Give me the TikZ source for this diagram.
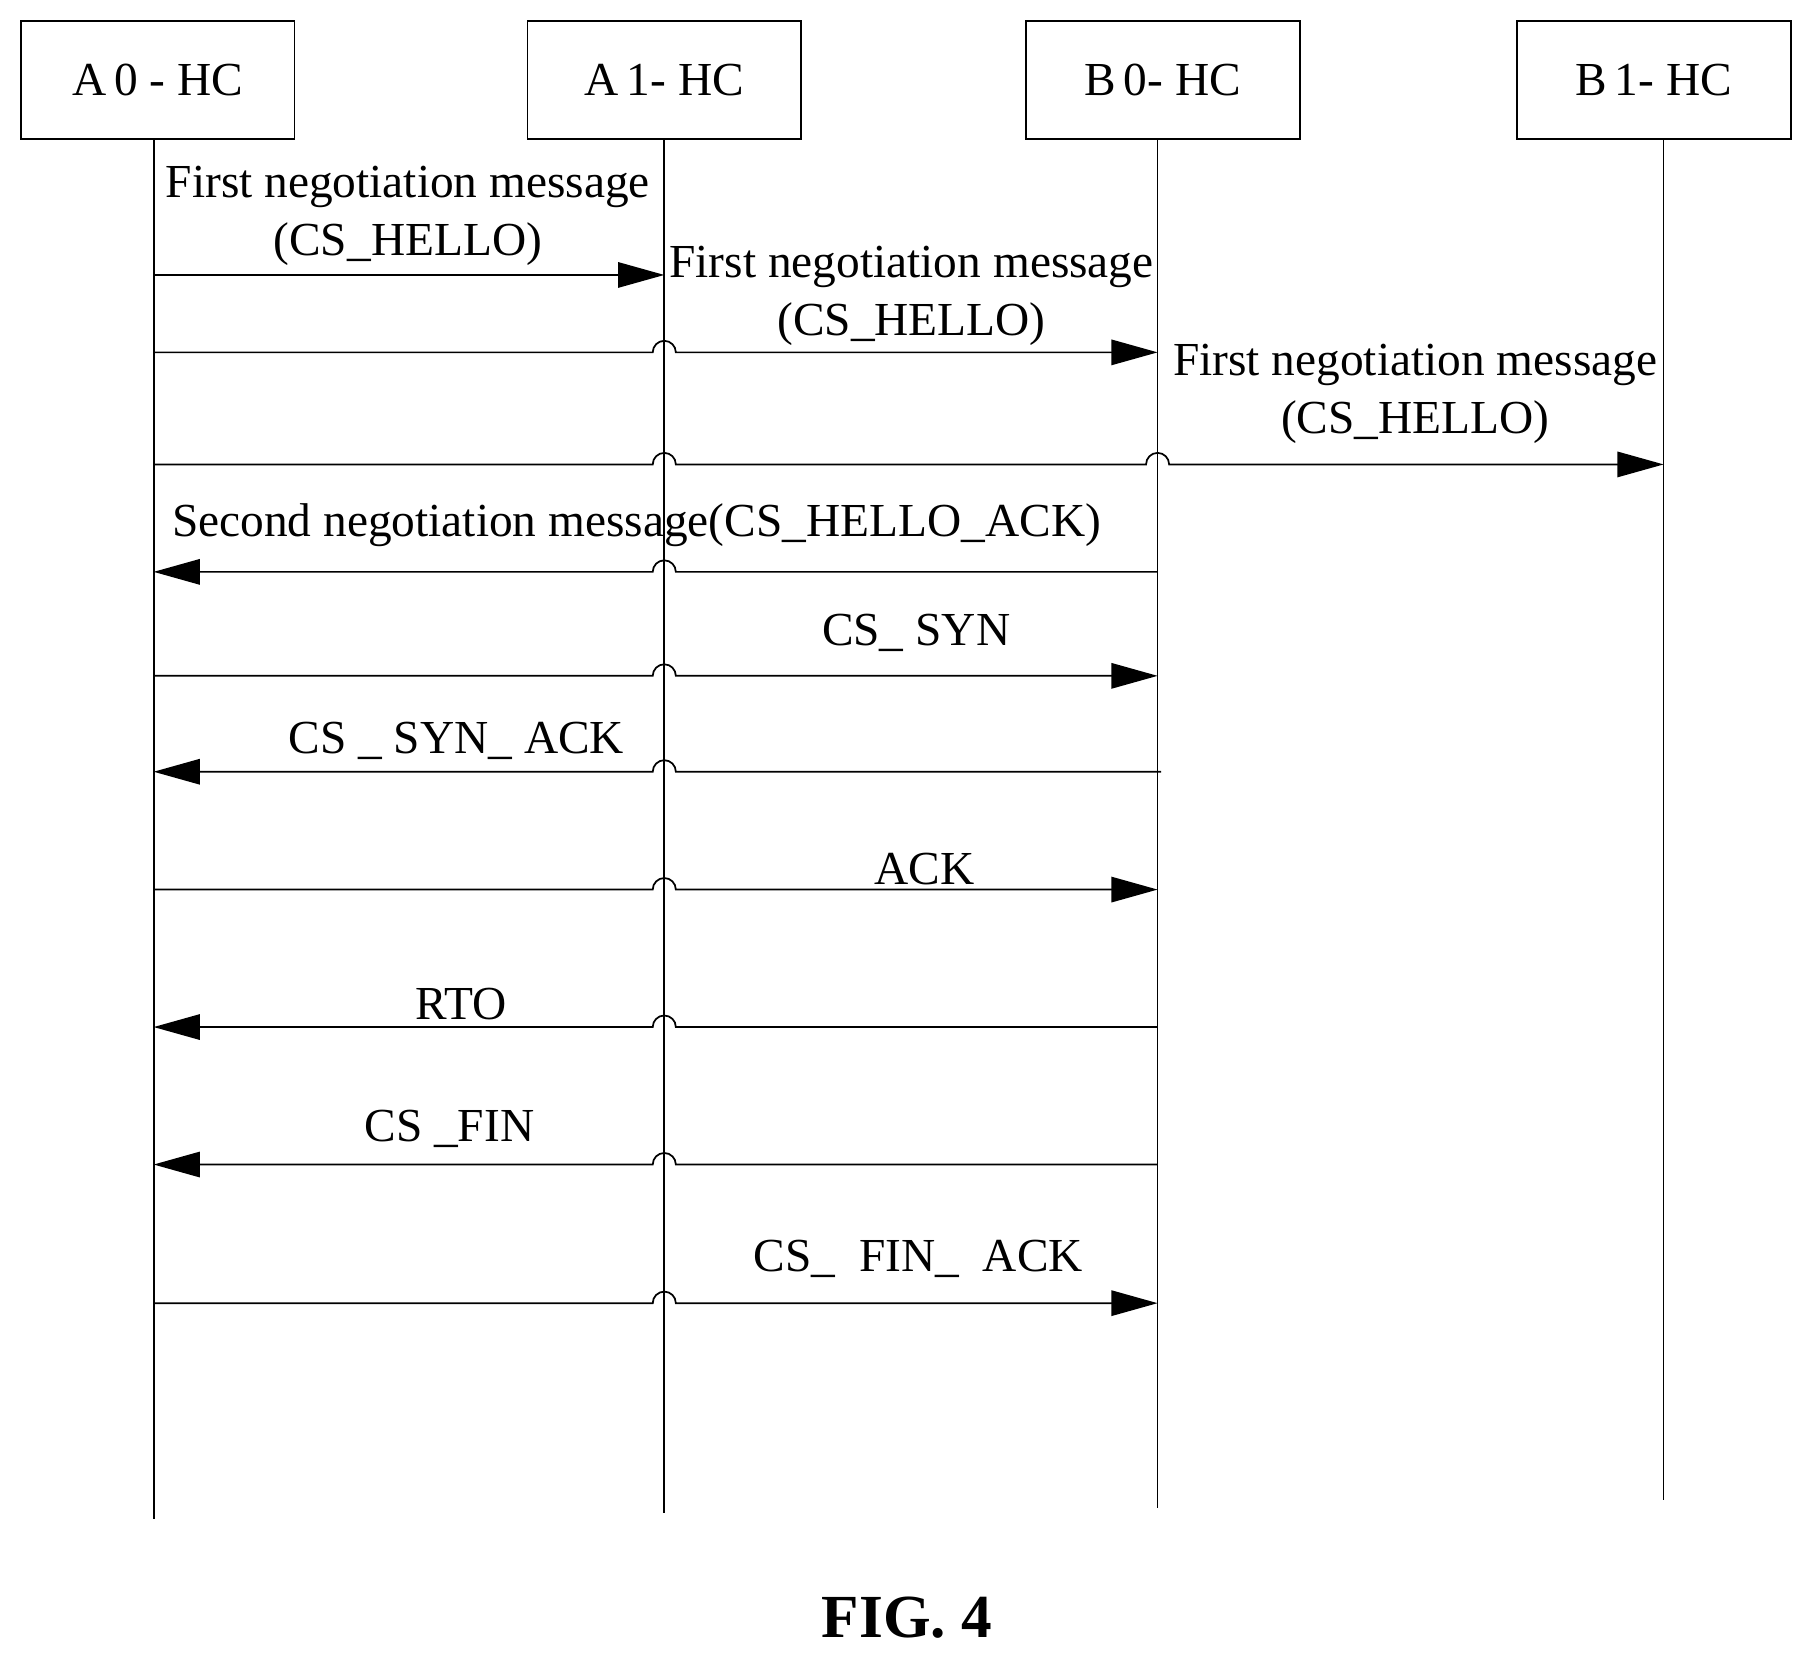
\documentclass[tikz,border=0pt]{standalone}
\usepackage{fontspec}
\setmainfont{Liberation Serif}
\usetikzlibrary{arrows.meta}
\begin{document}
\begin{tikzpicture}[x=1pt,y=1pt,
 box/.style={draw,line width=1.5pt,minimum width=237pt,minimum height=102pt,inner sep=0pt,font=\fontsize{41}{46}\selectfont},
 life/.style={line width=1.5pt},
 msg/.style={line width=1.5pt,-{Triangle[length=40pt,width=22pt]}},
 lab/.style={font=\fontsize{41}{50}\selectfont,inner sep=0pt}]
\useasboundingbox (0,0) rectangle (1565,-1433);
\node[box] (A0) at (136.5,-69) {A\,0 - HC};
\node[box] (A1) at (575,-69) {A\,1- HC};
\node[box] (B0) at (1006.5,-69) {B\,0- HC};
\node[box] (B1) at (1431.5,-69) {B\,1- HC};
\coordinate (L0) at (133,-120); \coordinate (L1) at (575,-120);
\coordinate (L2) at (1002,-120); \coordinate (L3) at (1440,-120);
\coordinate (E0) at (133,-1315); \coordinate (E1) at (575,-1310);
\coordinate (E2) at (1002,-1305); \coordinate (E3) at (1440,-1298);
\draw[life] (L0)--(E0); \draw[life] (L1)--(E1); \draw[life] (L2)--(E2); \draw[life] (L3)--(E3);
% 1
\draw[msg] (L0|-0,-238) -- (L1|-0,-238);
\node[lab,align=center] (t1) at (353,-187) {First negotiation message\\(CS\_HELLO)};
% 2
\draw[msg] (L0|-0,-305) -- ([xshift=-10pt]L1|-0,-305) arc[start angle=180,end angle=0,radius=10] -- (L2|-0,-305);
\node[lab,align=center] (t2) at (789,-256) {First negotiation message\\(CS\_HELLO)};
% 3
\draw[msg] (L0|-0,-402) -- ([xshift=-10pt]L1|-0,-402) arc[start angle=180,end angle=0,radius=10] -- ([xshift=-10pt]L2|-0,-402) arc[start angle=180,end angle=0,radius=10] -- (L3|-0,-402);
\node[lab,align=center] (t3) at (1225,-341) {First negotiation message\\(CS\_HELLO)};
% 4
\draw[msg] (L2|-0,-495) -- ([xshift=10pt]L1|-0,-495) arc[start angle=0,end angle=180,radius=10] -- (L0|-0,-495);
\node[lab] (t4) at (551,-455) {Second negotiation message(CS\_HELLO\_ACK)};
% 5
\draw[msg] (L0|-0,-585) -- ([xshift=-10pt]L1|-0,-585) arc[start angle=180,end angle=0,radius=10] -- (L2|-0,-585);
\node[lab] (t5) at (793,-548) {CS\_ SYN};
% 6
\draw[msg] ([xshift=3pt]L2|-0,-668) -- ([xshift=10pt]L1|-0,-668) arc[start angle=0,end angle=180,radius=10] -- (L0|-0,-668);
\node[lab] (t6) at (395,-641) {CS \_ SYN\_ ACK};
% 7
\draw[msg] (L0|-0,-770) -- ([xshift=-10pt]L1|-0,-770) arc[start angle=180,end angle=0,radius=10] -- (L2|-0,-770);
\node[lab] (t7) at (800,-752) {ACK};
% 8
\draw[msg] (L2|-0,-889) -- ([xshift=10pt]L1|-0,-889) arc[start angle=0,end angle=180,radius=10] -- (L0|-0,-889);
\node[lab] (t8) at (399,-869) {RTO};
% 9
\draw[msg] (L2|-0,-1008) -- ([xshift=10pt]L1|-0,-1008) arc[start angle=0,end angle=180,radius=10] -- (L0|-0,-1008);
\node[lab] (t9) at (389,-977) {CS \_FIN};
% 10
\draw[msg] (L0|-0,-1128) -- ([xshift=-10pt]L1|-0,-1128) arc[start angle=180,end angle=0,radius=10] -- (L2|-0,-1128);
\node[lab] (t10) at (795,-1090) {CS\_ \ FIN\_ \ ACK};
\node[lab,font=\fontsize{53}{60}\selectfont\bfseries] (fig) at (785,-1400) {FIG. 4};
\end{tikzpicture}
\end{document}
